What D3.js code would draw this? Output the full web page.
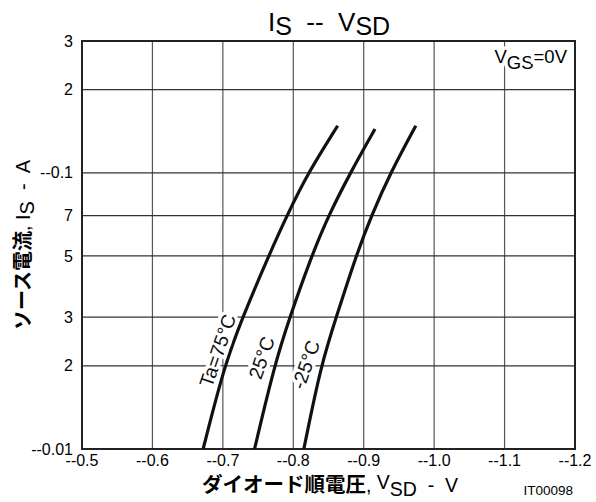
<!DOCTYPE html>
<html>
<head>
<meta charset="utf-8">
<script src="https://cdn.jsdelivr.net/npm/d3@7"></script>
<style>
  body { margin: 0; background: #fff; }
  svg { display: block; }
</style>
</head>
<body>
<div id="chart"></div>
<script>
// Source current I_S (A) where the curves cross the grid lines
const currents = [0.01, 0.02, 0.03, 0.05, 0.07, 0.1];
// current at the top end of each curve
const topCurrents = [0.148, 0.144, 0.148];
// V_SD readings (V) for each ambient temperature (last value = top end)
const vsd75 = [-0.672, -0.702, -0.728, -0.765, -0.791, -0.821, -0.863];
const vsd25 = [-0.745, -0.773, -0.795, -0.826, -0.850, -0.881, -0.916];
const vsdM25 = [-0.815, -0.839, -0.861, -0.889, -0.911, -0.938, -0.974];
const curveLabels = ["Ta=75°C", "25°C", "-25°C"];

const xTicks = [-0.5, -0.6, -0.7, -0.8, -0.9, -1.0, -1.1, -1.2];
const xTickLabels = ["--0.5", "--0.6", "--0.7", "--0.8", "--0.9", "--1.0", "--1.1", "--1.2"];
const yTicks = [0.3, 0.2, 0.1, 0.07, 0.05, 0.03, 0.02, 0.01];
const yTickLabels = ["3", "2", "--0.1", "7", "5", "3", "2", "--0.01"];

const width = 596, height = 502;
const margin = {top: 41, right: 21, bottom: 53, left: 82};

const svg = d3.select("#chart").append("svg")
  .attr("width", width)
  .attr("height", height)
  .attr("font-family", "Arial, 'Liberation Sans', sans-serif");

const x = d3.scaleLinear()
  .domain([-0.5, -1.2])
  .range([margin.left, width - margin.right]);
const y = d3.scaleLog()
  .domain([0.01, 0.3])
  .range([height - margin.bottom, margin.top]);

// grid
svg.append("g")
  .attr("stroke", "#555")
  .attr("stroke-width", 1.2)
  .selectAll("line")
  .data(xTicks.slice(1, -1))
  .join("line")
    .attr("x1", d => x(d)).attr("x2", d => x(d))
    .attr("y1", y(0.3)).attr("y2", y(0.01));

svg.append("g")
  .attr("stroke", "#333")
  .attr("stroke-width", 1.2)
  .selectAll("line")
  .data(yTicks.slice(1, -1))
  .join("line")
    .attr("x1", x(-0.5)).attr("x2", x(-1.2))
    .attr("y1", d => y(d)).attr("y2", d => y(d));

// frame
svg.append("rect")
  .attr("x", x(-0.5)).attr("y", y(0.3))
  .attr("width", x(-1.2) - x(-0.5))
  .attr("height", y(0.01) - y(0.3))
  .attr("fill", "none")
  .attr("stroke", "#222")
  .attr("stroke-width", 2);

// tick labels
svg.append("g")
  .attr("font-size", 16)
  .attr("text-anchor", "middle")
  .selectAll("text")
  .data(xTicks)
  .join("text")
    .attr("x", d => x(d))
    .attr("y", y(0.01) + 17)
    .text((d, i) => xTickLabels[i]);

svg.append("g")
  .attr("font-size", 16)
  .attr("text-anchor", "end")
  .selectAll("text")
  .data(yTicks)
  .join("text")
    .attr("x", x(-0.5) - 9)
    .attr("y", d => y(d))
    .attr("dy", "0.35em")
    .text((d, i) => yTickLabels[i]);

// curves
const series = [vsd75, vsd25, vsdM25];
const line = d3.line()
  .x(d => x(d[0]))
  .y(d => y(d[1]))
  .curve(d3.curveBasis);

svg.append("g")
  .attr("fill", "none")
  .attr("stroke", "#111")
  .attr("stroke-width", 3.2)
  .selectAll("path")
  .data(series)
  .join("path")
    .attr("d", (s, k) => line(s.map((v, i) => [v, i < currents.length ? currents[i] : topCurrents[k]])));

// curve labels, placed left of each curve
const labelAt = [[-0.6925, 0.0227], [-0.755, 0.0214], [-0.8176, 0.0202]];
svg.append("g")
  .attr("font-size", 19.5)
  .attr("text-anchor", "middle")
  .selectAll("text")
  .data(curveLabels)
  .join("text")
    .attr("transform", (d, i) => `translate(${x(labelAt[i][0])},${y(labelAt[i][1])}) rotate(-71)`)
    .attr("dy", "0.35em")
    .attr("fill", "#111")
    .attr("stroke", "#fff")
    .attr("stroke-width", 7)
    .attr("paint-order", "stroke")
    .text(d => d);

// V_GS note
const note = svg.append("text")
  .attr("x", x(-1.2) - 8)
  .attr("y", y(0.3) + 22)
  .attr("text-anchor", "end")
  .attr("font-size", 18.5)
  .attr("stroke", "#fff")
  .attr("stroke-width", 7)
  .attr("paint-order", "stroke");
note.append("tspan").text("V");
note.append("tspan").attr("dy", 6).text("GS");
note.append("tspan").attr("dy", -6).text("=0V");

// title
const title = svg.append("text")
  .attr("x", 329)
  .attr("y", 31)
  .attr("text-anchor", "middle")
  .attr("font-size", 26)
  .attr("xml:space", "preserve");
title.append("tspan").text("I");
title.append("tspan").attr("dy", 4).attr("font-size", 25).text("S");
title.append("tspan").attr("dy", -4).text("  --  V");
title.append("tspan").attr("dy", 4).attr("font-size", 25).text("SD");

// y axis title
const yTitle = svg.append("text")
  .attr("transform", "translate(30,245) rotate(-90)")
  .attr("text-anchor", "middle")
  .attr("font-size", 20)
  .attr("xml:space", "preserve");
yTitle.append("tspan")
  .attr("font-family", "'Noto Sans CJK JP', sans-serif")
  .attr("font-weight", "bold")
  .text("ソース電流");
yTitle.append("tspan").text(", I");
yTitle.append("tspan").attr("dy", 4).text("S");
yTitle.append("tspan").attr("dy", -4).text("  -  A");

// x axis title
const xTitle = svg.append("text")
  .attr("x", 330)
  .attr("y", 492)
  .attr("text-anchor", "middle")
  .attr("font-size", 19.5)
  .attr("xml:space", "preserve");
xTitle.append("tspan")
  .attr("font-family", "'Noto Sans CJK JP', sans-serif")
  .attr("font-weight", "bold")
  .attr("font-size", 20.5)
  .text("ダイオード順電圧");
xTitle.append("tspan").text(", ");
xTitle.append("tspan").attr("dy", -3).text("V");
xTitle.append("tspan").attr("dy", 7).text("SD");
xTitle.append("tspan").attr("dy", -4).text("  -  V");

svg.append("text")
  .attr("x", 573)
  .attr("y", 495)
  .attr("text-anchor", "end")
  .attr("font-size", 13.5)
  .text("IT00098");
</script>
</body>
</html>
